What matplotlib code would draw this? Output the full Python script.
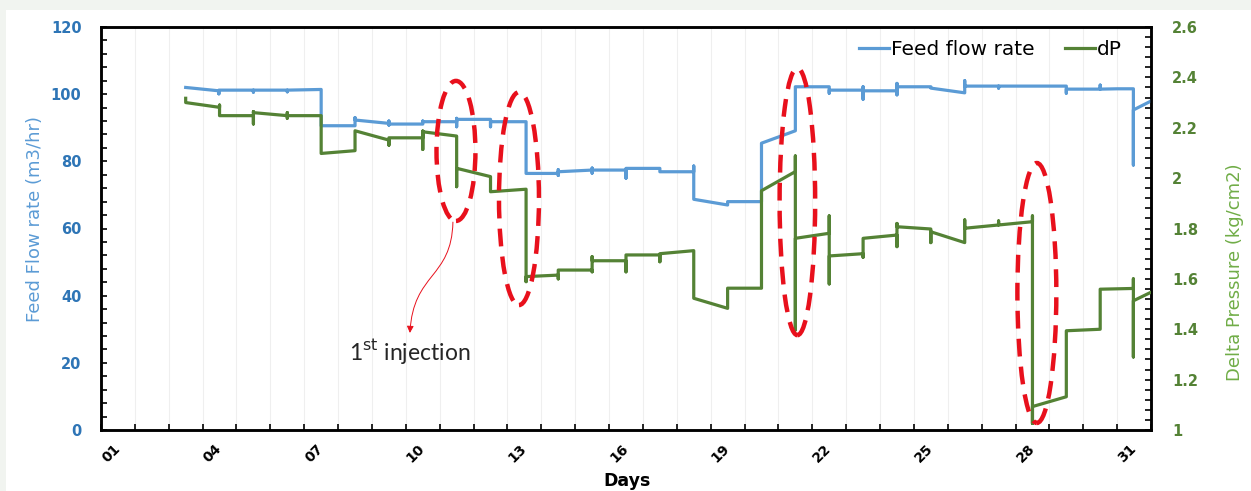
import matplotlib.pyplot as plt
import numpy as np
from matplotlib.patches import Ellipse, FancyArrowPatch, Rectangle
from matplotlib.path import Path
from matplotlib.ticker import MultipleLocator, FixedLocator

plt.rcParams['font.family'] = ['DejaVu Sans']

# day of month (label "01" = day 1) and feed flow (m3/hr)
flow_days = [3.0, 3.98, 3.98, 3.98, 5.0, 5.0, 5.0, 6.0, 6.0, 6.0, 7.0, 7.0,
             8.0, 8.0, 8.0, 9.0, 9.0, 9.0, 9.0, 10.0, 10.0, 10.0,
             11.0, 11.0, 11.0, 11.0, 12.0, 12.0, 12.0, 13.05, 13.05,
             14.0, 14.0, 14.0, 14.0, 15.0, 15.0, 15.0, 15.0, 16.0, 16.0, 16.0,
             17.0, 17.0, 18.0, 18.0, 18.0, 19.0, 19.0, 20.0, 20.0, 21.0, 21.0,
             22.0, 22.0, 22.0, 23.0, 23.0, 23.0, 23.0, 24.0, 24.0, 24.0, 24.0,
             25.0, 25.0, 26.0, 26.0, 26.0, 27.0, 27.0, 27.0, 28.0,
             29.0, 29.0, 29.0, 30.0, 30.0, 30.0, 30.5, 30.98, 30.98, 30.98, 31.47]
flow_rate = [102.0, 101.0, 100.1, 101.2, 101.2, 100.6, 101.2, 101.2, 100.7, 101.2, 101.4, 90.6,
             90.6, 93.0, 92.3, 91.3, 92.0, 90.8, 91.1, 91.1, 92.0, 91.8,
             91.8, 92.8, 90.3, 92.5, 92.5, 90.3, 91.8, 91.8, 76.4,
             76.4, 77.5, 75.8, 76.9, 77.4, 78.0, 76.5, 77.4, 77.4, 75.0, 77.9,
             77.9, 76.9, 76.9, 78.6, 68.7, 67.0, 68.0, 68.0, 85.4, 89.1, 102.2,
             102.2, 100.3, 101.2, 101.2, 102.2, 98.5, 101.0, 101.0, 103.2, 99.8, 102.2,
             102.2, 101.8, 100.4, 104.0, 102.4, 102.4, 101.8, 102.4, 102.4,
             102.4, 100.3, 101.5, 101.5, 102.7, 101.5, 101.6, 101.6, 78.9, 95.3, 97.8]

# day of month and differential pressure (kg/cm2)
dp_days = [3.0, 3.0, 4.0, 4.0, 4.0, 5.0, 5.0, 5.0, 5.0, 6.0, 6.0, 6.0, 6.0,
           7.0, 7.0, 8.0, 8.0, 9.0, 9.0, 9.0, 10.0, 10.0, 10.0, 10.0,
           11.0, 11.0, 11.0, 12.0, 12.0, 13.05, 13.05, 13.05,
           14.0, 14.0, 14.0, 15.0, 15.0, 15.0, 15.0, 16.0, 16.0, 16.0,
           17.0, 17.0, 17.0, 18.0, 18.0, 19.0, 19.0, 20.0, 20.0,
           21.0, 21.0, 21.0, 21.0, 22.0, 22.0, 22.0, 22.0, 23.0, 23.0, 23.0,
           24.0, 24.0, 24.0, 24.0, 25.0, 25.0, 25.0, 26.0, 26.0, 26.0,
           27.0, 27.0, 27.0, 28.0, 28.0, 28.0, 28.0, 29.0, 29.0, 30.0, 30.0,
           30.98, 30.98, 30.98, 30.98, 31.47]
dp_vals = [2.317, 2.300, 2.281, 2.29, 2.248, 2.248, 2.215, 2.264, 2.26, 2.248, 2.238, 2.26, 2.248,
           2.248, 2.098, 2.109, 2.188, 2.151, 2.131, 2.16, 2.16, 2.187, 2.114, 2.184,
           2.167, 1.966, 2.039, 2.006, 1.946, 1.956, 1.589, 1.609,
           1.615, 1.60, 1.635, 1.635, 1.628, 1.688, 1.672, 1.672, 1.628, 1.695,
           1.695, 1.668, 1.70, 1.712, 1.523, 1.483, 1.563, 1.563, 1.95,
           2.026, 2.088, 1.397, 1.761, 1.781, 1.85, 1.58, 1.691, 1.70, 1.686, 1.761,
           1.774, 1.728, 1.82, 1.807, 1.798, 1.744, 1.787, 1.744, 1.834, 1.801,
           1.814, 1.83, 1.814, 1.827, 1.85, 1.026, 1.093, 1.132, 1.394, 1.40, 1.559,
           1.562, 1.60, 1.29, 1.513, 1.545]

day_labels = ['01', '04', '07', '10', '13', '16', '19', '22', '25', '28', '31']
day_label_pos = [1, 4, 7, 10, 13, 16, 19, 22, 25, 28, 31]

BLUE = '#5B9BD5'
BLUE_D = '#2E75B6'
GREEN = '#548235'
GREEN_L = '#70AD47'
RED = '#E8101C'

fig = plt.figure(figsize=(12.51, 4.91), dpi=100)
fig.patch.set_facecolor('#f1f4f0')
fig.patches.append(Rectangle((6/1251, 0), 1, 1 - 10/491, transform=fig.transFigure,
                             facecolor='white', edgecolor='none', zorder=-10))
ax = fig.add_axes([101/1251, 1 - 430/491, 1050/1251, 403/491])
ax2 = ax.twinx()

l1, = ax.plot(flow_days, flow_rate, color=BLUE, lw=2.3, label='Feed flow rate', zorder=3)
l2, = ax2.plot(dp_days, dp_vals, color=GREEN, lw=2.3, label='dP', zorder=3)

ax.set_xlim(0.5, 31.5)
ax.set_ylim(0, 120)
ax2.set_ylim(1, 2.6)

ax.xaxis.set_major_locator(FixedLocator(day_label_pos))
ax.set_xticklabels(day_labels)
ax.xaxis.set_minor_locator(MultipleLocator(1, offset=0.5))
ax.tick_params(axis='x', which='major', length=0, pad=12)
ax.tick_params(axis='x', which='minor', direction='in', length=4, width=1.2)
for t in ax.get_xticklabels():
    t.set_rotation(45)
    t.set_ha('right')
    t.set_va('center')
    t.set_rotation_mode('anchor')
    t.set_fontweight('bold')
    t.set_fontsize(10)
ax.grid(axis='x', which='minor', color='#efefef', lw=0.8)

ax.yaxis.set_major_locator(MultipleLocator(20))
ax.yaxis.set_minor_locator(MultipleLocator(4))
ax.tick_params(axis='y', which='both', direction='in', length=4, width=1.2,
               labelcolor=BLUE_D, labelsize=10.5, pad=14)
for t in ax.get_yticklabels():
    t.set_fontweight('bold')

ax2.yaxis.set_major_locator(MultipleLocator(0.2))
ax2.yaxis.set_minor_locator(MultipleLocator(0.04))
ax2.set_yticks(np.arange(1, 2.61, 0.2))
ax2.set_yticklabels(['1', '1.2', '1.4', '1.6', '1.8', '2', '2.2', '2.4', '2.6'])
ax2.tick_params(axis='y', which='both', direction='in', length=4, width=1.2,
                labelcolor=GREEN, labelsize=10.5, pad=15)
for t in ax2.get_yticklabels():
    t.set_fontweight('bold')

for a in (ax, ax2):
    for s in a.spines.values():
        s.set_linewidth(1.8)
        s.set_color('black')

# red dashed ellipses marking the injections
ellipses = [(10.98, 83.1, 1.15, 41.7), (12.84, 68.9, 1.18, 63.4),
            (21.06, 68.0, 1.05, 79.5), (28.13, 40.8, 1.15, 77.4)]
for cx, cy, w, h in ellipses:
    e = Ellipse((cx, cy), w, h, transform=ax.transData, fill=False,
                edgecolor=RED, lw=3.2, linestyle=(0, (4, 2.3)), zorder=5)
    ax2.add_patch(e)

verts = [(10.89, 61.9), (10.85, 45.0), (9.72, 47.0), (9.62, 28.9)]
arr = FancyArrowPatch(path=Path(verts, [Path.MOVETO, Path.CURVE4, Path.CURVE4, Path.CURVE4]),
                      arrowstyle='-|>,head_length=4,head_width=2', color=RED, lw=0.7,
                      transform=ax.transData, zorder=5)
ax2.add_patch(arr)
ax2.text(9.62, 23.5, r'1$^{\mathrm{st}}$ injection', transform=ax.transData,
         ha='center', va='center', fontsize=16.5, color='#262626', family=['Lato', 'DejaVu Sans'])

ax2.legend([l1, l2], ['Feed flow rate', 'dP'], loc='center right',
           bbox_to_anchor=(0.982, 0.943), ncol=2, frameon=False, fontsize=14.5,
           handlelength=1.5, handletextpad=0.1, columnspacing=1.5, borderpad=0)

fig.text(35/1251, 1 - 219/491, 'Feed Flow rate (m3/hr)', rotation=90, ha='center',
         va='center', color=BLUE, fontsize=13)
fig.text(1235/1251, 1 - 272/491, 'Delta Pressure (kg/cm2)', rotation=90, ha='center',
         va='center', color=GREEN_L, fontsize=13)
fig.text(627/1251, 1 - 472/491, 'Days', ha='center', va='top', fontweight='bold',
         fontsize=12.5)

fig.savefig('out.png', dpi=100, facecolor=fig.get_facecolor())
